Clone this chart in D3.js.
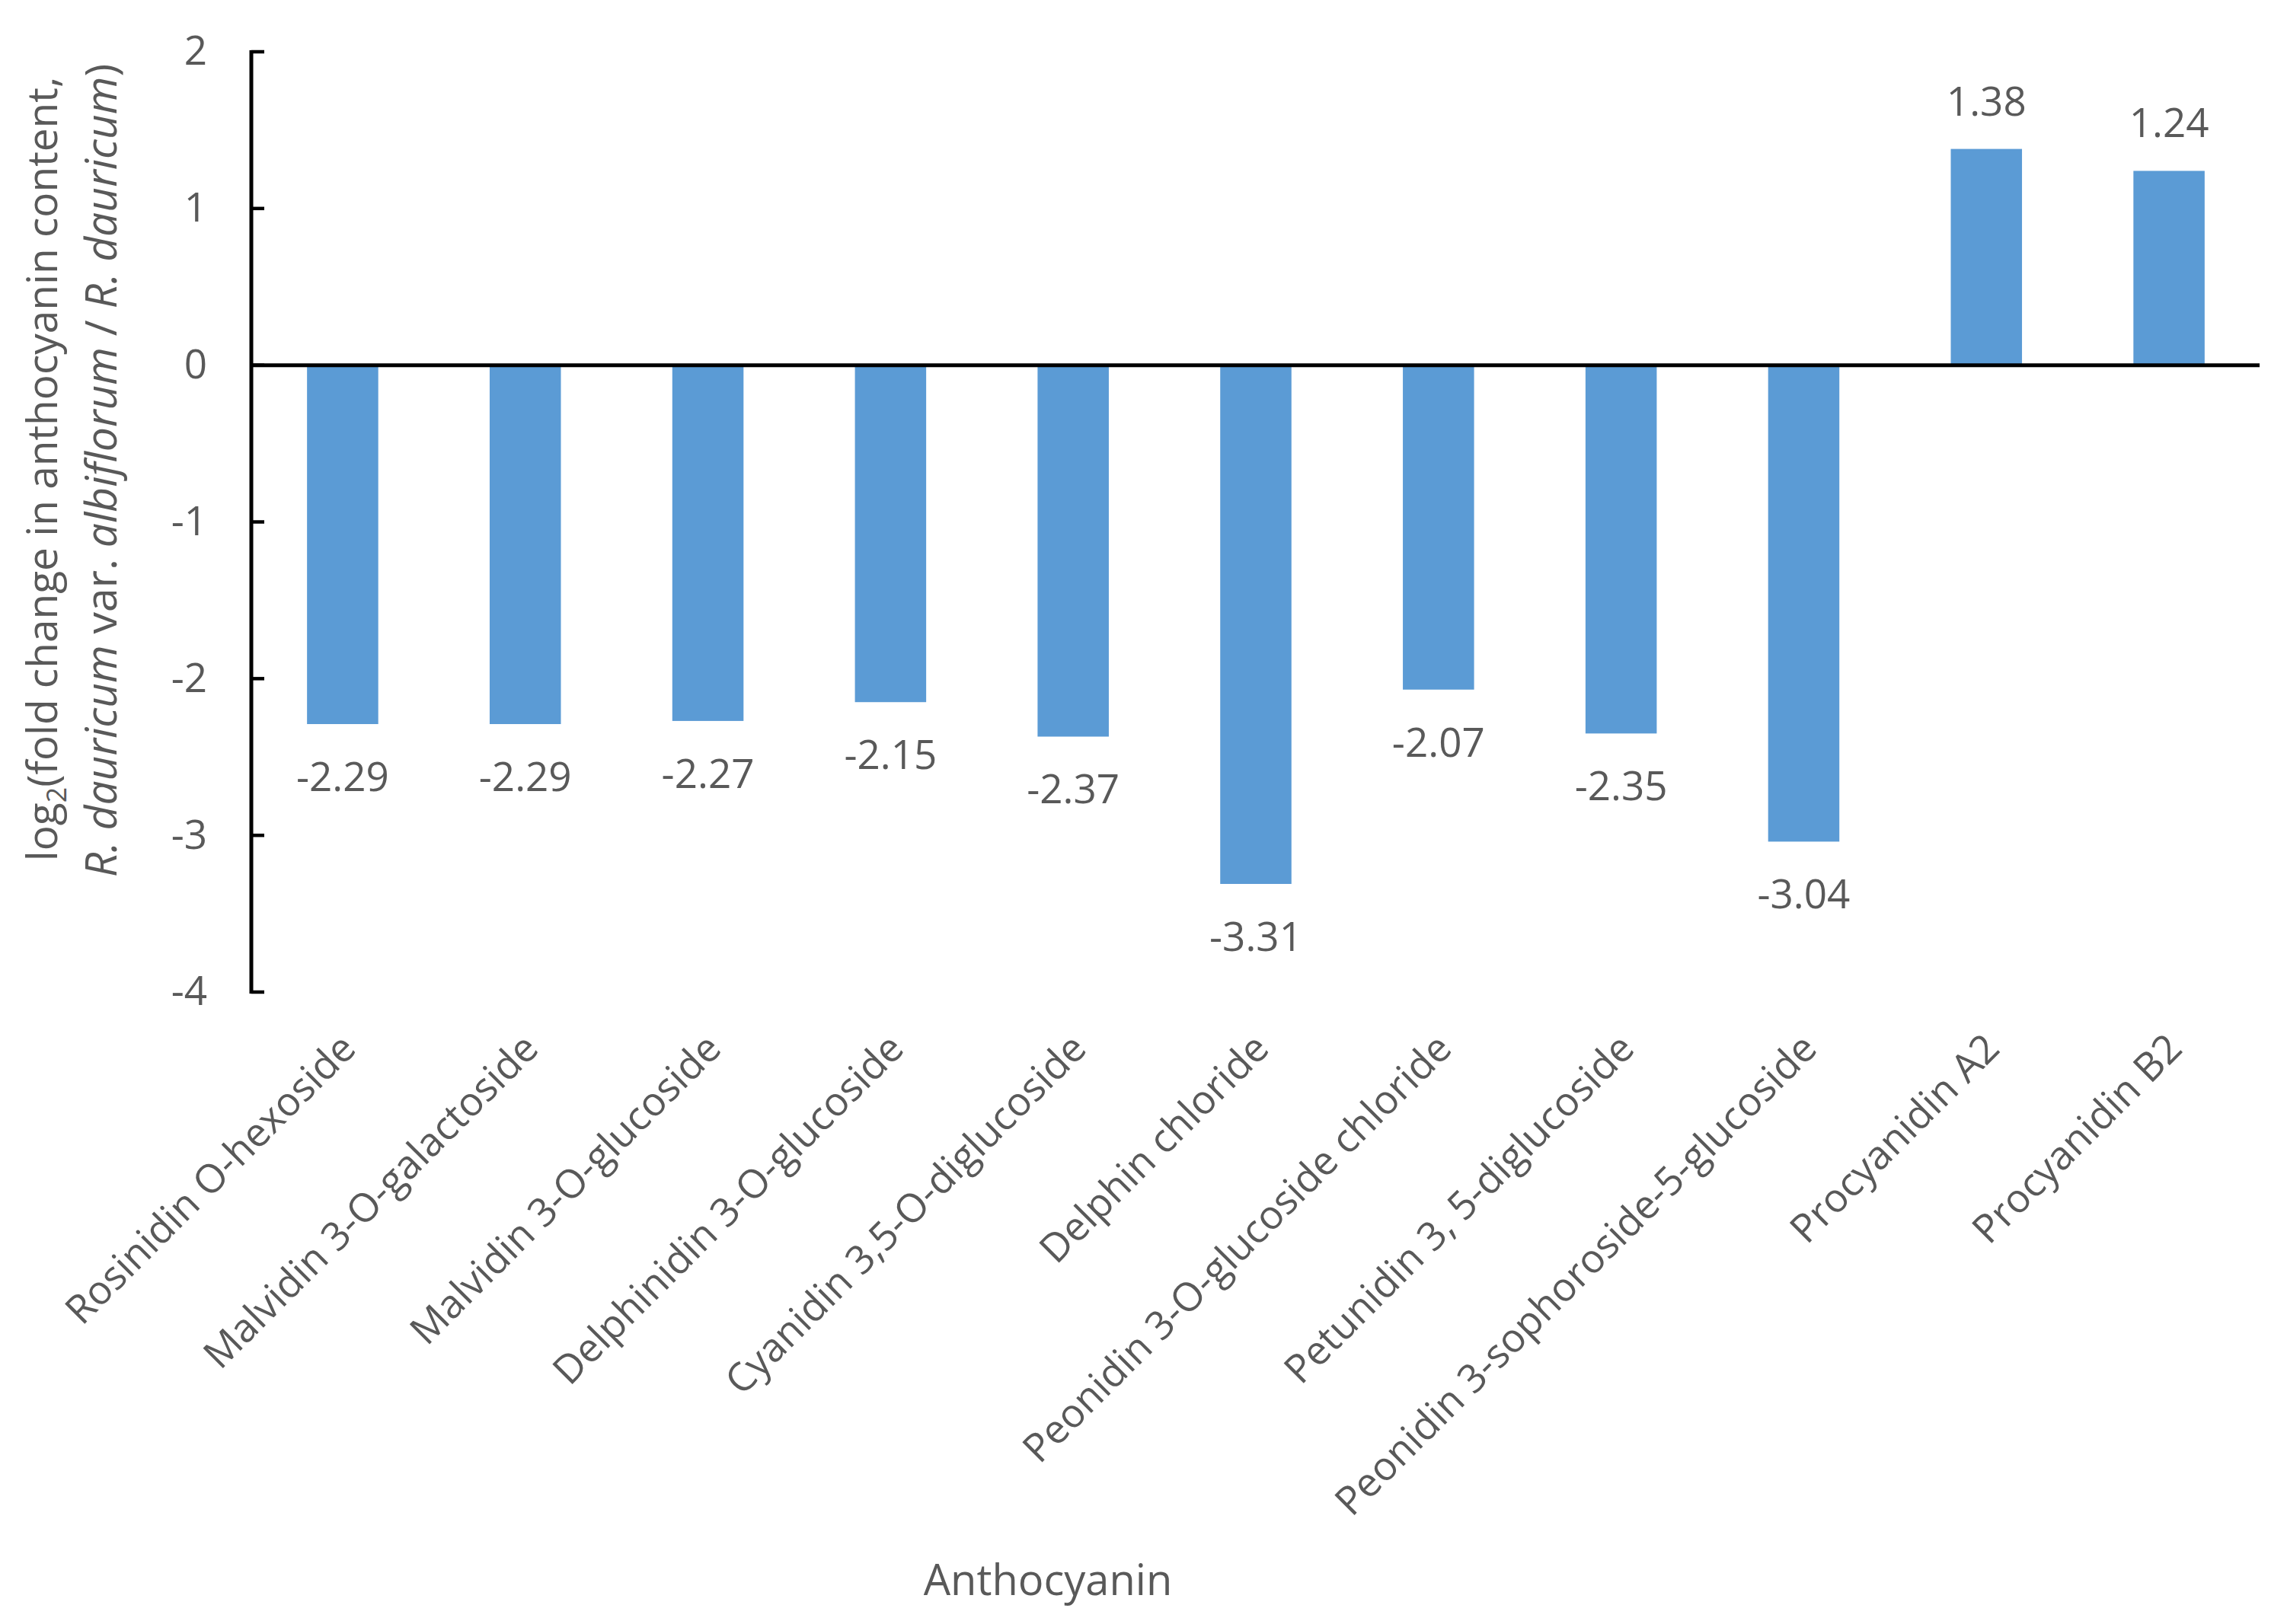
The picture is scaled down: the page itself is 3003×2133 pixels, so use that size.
<!DOCTYPE html>
<html>
<head>
<meta charset="utf-8">
<script src="https://cdn.jsdelivr.net/npm/d3@7"></script>
<style>
  body { margin: 0; background: #fff; }
  text { font-family: "Open Sans", sans-serif; fill: #595959; }
</style>
</head>
<body>
<div id="chart"></div>
<script>
var categories = ["Rosinidin O-hexoside", "Malvidin 3-O-galactoside", "Malvidin 3-O-glucoside",
  "Delphinidin 3-O-glucoside", "Cyanidin 3,5-O-diglucoside", "Delphin chloride",
  "Peonidin 3-O-glucoside chloride", "Petunidin 3, 5-diglucoside",
  "Peonidin 3-sophoroside-5-glucoside", "Procyanidin A2", "Procyanidin B2"];
var values = [-2.29, -2.29, -2.27, -2.15, -2.37, -3.31, -2.07, -2.35, -3.04, 1.38, 1.24];
var yTicks = [2, 1, 0, -1, -2, -3, -4];

var W = 3003, H = 2133;
var plotLeft = 330, plotRight = 2968, plotTop = 68, plotBottom = 1303;

var svg = d3.select("#chart").append("svg")
    .attr("width", W)
    .attr("height", H);

var x = d3.scaleBand()
    .domain(categories)
    .range([plotLeft, plotRight])
    .paddingInner(0.61)
    .paddingOuter(0.305);

var y = d3.scaleLinear()
    .domain([-4, 2])
    .range([plotBottom, plotTop]);

// bars
svg.selectAll("rect.bar")
    .data(values)
    .enter()
    .append("rect")
    .attr("class", "bar")
    .attr("x", function(d, i) { return x(categories[i]); })
    .attr("y", function(d) { return y(Math.max(0, d)); })
    .attr("width", x.bandwidth())
    .attr("height", function(d) { return Math.abs(y(d) - y(0)); })
    .style("fill", "#5B9BD5");

// value labels
svg.selectAll("text.val")
    .data(values)
    .enter()
    .append("text")
    .attr("class", "val")
    .attr("x", function(d, i) { return x(categories[i]) + x.bandwidth() / 2; })
    .attr("y", function(d) { return d >= 0 ? y(d) - 44 : y(d) + 88; })
    .attr("text-anchor", "middle")
    .style("font-size", "53px")
    .text(function(d) { return d.toFixed(2); });

// y axis labels (plain hyphen, like the original)
var yAxis = d3.axisLeft(y)
    .tickValues(yTicks)
    .tickSize(0)
    .tickPadding(58)
    .tickFormat(function(d) { return String(d); });

var gy = svg.append("g")
    .attr("transform", "translate(" + plotLeft + ",0)")
    .call(yAxis);
gy.select(".domain").remove();
gy.selectAll("text")
    .style("font-size", "53px")
    .style("fill", "#595959")
    .style("font-family", "'Open Sans', sans-serif");

// axis line + inward ticks
svg.append("line")
    .attr("x1", plotLeft).attr("x2", plotLeft)
    .attr("y1", y(2) - 2).attr("y2", y(-4) + 2)
    .style("stroke", "#000").style("stroke-width", 5);
svg.selectAll("line.ytick")
    .data(yTicks)
    .enter()
    .append("line")
    .attr("class", "ytick")
    .attr("x1", plotLeft).attr("x2", plotLeft + 17)
    .attr("y1", function(d) { return y(d); })
    .attr("y2", function(d) { return y(d); })
    .style("stroke", "#000").style("stroke-width", 4.5);

// zero line
svg.append("line")
    .attr("x1", plotLeft).attr("x2", 2967)
    .attr("y1", y(0)).attr("y2", y(0))
    .style("stroke", "#000").style("stroke-width", 5);

// category labels
svg.selectAll("text.cat")
    .data(categories)
    .enter()
    .append("text")
    .attr("class", "cat")
    .attr("text-anchor", "end")
    .attr("transform", function(d) {
        return "translate(" + (x(d) + x.bandwidth() / 2 + 20) + ",1380) rotate(-45)";
    })
    .style("font-size", "52px")
    .text(function(d) { return d; });

// x title
svg.append("text")
    .attr("x", 1376)
    .attr("y", 2095)
    .attr("text-anchor", "middle")
    .style("font-size", "56px")
    .text("Anthocyanin");

// y title (two lines)
var t1 = svg.append("text")
    .attr("transform", "translate(75,616) rotate(-90)")
    .attr("text-anchor", "middle")
    .style("font-size", "55px");
t1.append("tspan").text("log");
t1.append("tspan").attr("dy", 12).style("font-size", "36px").text("2");
t1.append("tspan").attr("dy", -12).text("(fold change in anthocyanin content,");

var t2 = svg.append("text")
    .attr("transform", "translate(153,618) rotate(-90)")
    .attr("text-anchor", "middle")
    .style("font-size", "57px");
var parts = [["R. dauricum", true], [" var. ", false], ["albiflorum", true],
             [" / ", false], ["R. dauricum", true], [")", false]];
parts.forEach(function(p) {
    t2.append("tspan")
        .style("font-style", p[1] ? "italic" : "normal")
        .text(p[0]);
});
</script>
</body>
</html>
